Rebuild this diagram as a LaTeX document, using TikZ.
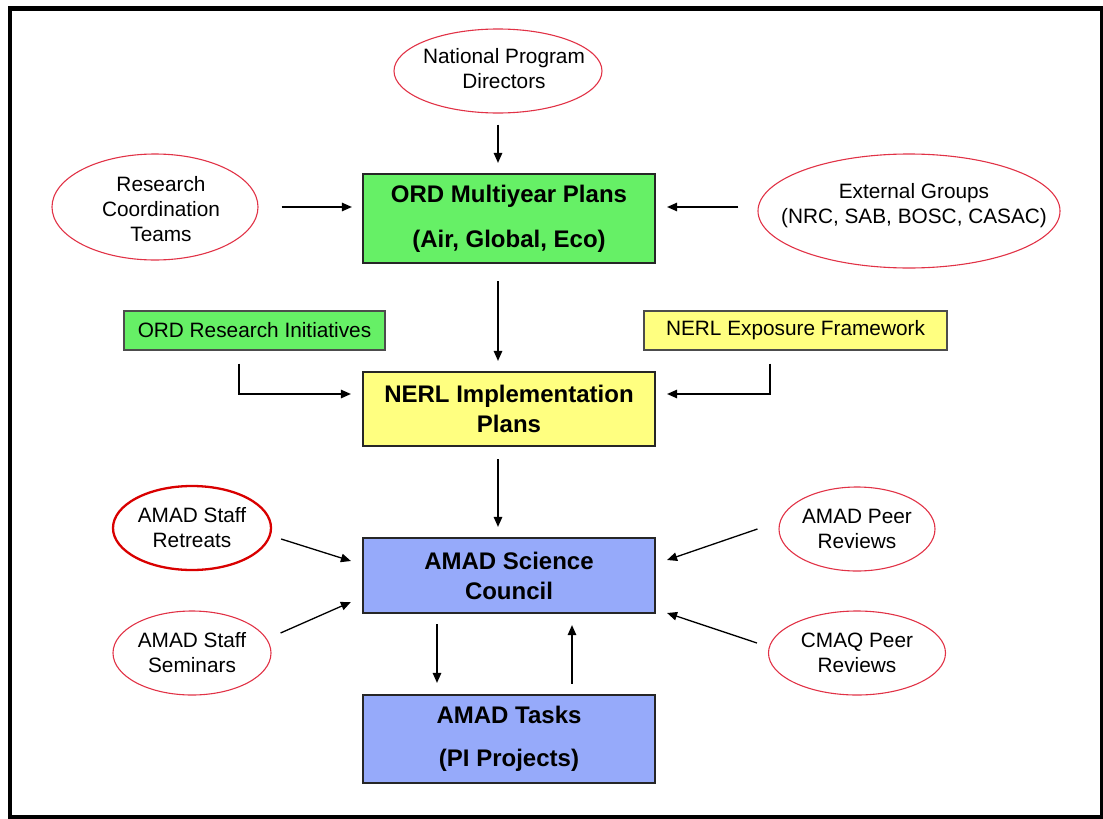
\documentclass[tikz,border=0pt]{standalone}
\usepackage{fontspec}
\setmainfont{Liberation Sans}
\usetikzlibrary{shapes.geometric,arrows.meta}
\definecolor{boxgreen}{RGB}{102,240,102}
\definecolor{boxyellow}{RGB}{255,255,128}
\definecolor{boxblue}{RGB}{150,170,250}
\definecolor{ovalred}{RGB}{225,50,70}
\tikzset{
  plan/.style={draw=black!85, line width=2.2pt, minimum width=292pt, inner sep=0pt,
    align=center, font=\bfseries\fontsize{24}{30}\selectfont},
  side/.style={draw=black!70, line width=1.2pt, minimum height=39pt, inner sep=0pt,
    font=\fontsize{20.8}{25}\selectfont},
  oval/.style={ellipse, draw=ovalred, line width=1.1pt, inner sep=0pt},
  txt/.style={align=center, font=\fontsize{20.8}{25}\selectfont},
  arr/.style={-{Triangle[length=10pt,width=8.5pt]}, line width=1.3pt}
}
\begin{document}
\begin{tikzpicture}[x=1pt,y=-1pt]
\useasboundingbox (0,0) rectangle (1103,819);
\draw[line width=4.5pt] (10,8.5) rectangle (1102,817.5);

% ellipses
\node (npd) at (498,71) [oval, minimum width=208pt, minimum height=84pt,
  label={[txt, xshift=6pt, yshift=2pt]center:National Program\\Directors}] {};
\node (rct) at (155,207) [oval, minimum width=206pt, minimum height=106pt,
  label={[txt, xshift=6pt, yshift=-2pt]center:Research\\Coordination\\Teams}] {};
\node (ext) at (909,211) [oval, minimum width=302pt, minimum height=114pt,
  label={[txt, xshift=5pt, yshift=5pt]center:External Groups\\(NRC, SAB, BOSC, CASAC)}] {};
\node (ret) at (192,528) [oval, draw=red!85!black, line width=2.3pt, minimum width=158pt, minimum height=84pt,
  label={[txt]center:AMAD Staff\\Retreats}] {};
\node (sem) at (192,653) [oval, minimum width=158pt, minimum height=84pt,
  label={[txt]center:AMAD Staff\\Seminars}] {};
\node (peer) at (857,529) [oval, minimum width=156pt, minimum height=84pt,
  label={[txt]center:AMAD Peer\\Reviews}] {};
\node (cmaq) at (857,653) [oval, minimum width=177pt, minimum height=84pt,
  label={[txt]center:CMAQ Peer\\Reviews}] {};

% boxes
\node (ord) at (509,218.5) [plan, fill=boxgreen, minimum height=89pt] {ORD Multiyear Plans\\[15pt](Air, Global, Eco)};
\node (ori) at (254.5,330.5) [side, fill=boxgreen, minimum width=261pt] {ORD Research Initiatives};
\node (nef) at (795.5,330.5) [side, fill=boxyellow, minimum width=303pt] {NERL Exposure Framework};
\node (nerl) at (509,409) [plan, fill=boxyellow, minimum height=74pt] {NERL Implementation\\Plans};
\node (sci) at (509,575.5) [plan, fill=boxblue, minimum height=75pt] {AMAD Science\\Council};
\node (task) at (509,739) [plan, fill=boxblue, minimum height=88pt] {AMAD Tasks\\[13pt](PI Projects)};

\draw[arr, shorten <=11pt, shorten >=10pt] (npd.south) -- ([xshift=-11pt]ord.north);
\draw[arr, shorten <=23pt, shorten >=10pt] (rct.east) -- ([yshift=11.5pt]ord.west);
\draw[arr, shorten <=19pt, shorten >=11pt] ([yshift=4pt]ext.west) -- ([yshift=11.5pt]ord.east);
\draw[arr, shorten <=17pt, shorten >=10pt] ([xshift=-11pt]ord.south) -- ([xshift=-11pt]nerl.north);
\draw[arr, shorten <=13pt, shorten >=11pt] ([xshift=-15.5pt]ori.south) |- ([yshift=15pt]nerl.west);
\draw[arr, shorten <=13pt, shorten >=11pt] ([xshift=-25.5pt]nef.south) |- ([yshift=15pt]nerl.east);
\draw[arr, shorten <=12pt, shorten >=10pt] ([xshift=-11pt]nerl.south) -- ([xshift=-11pt]sci.north);
\draw[arr] ([xshift=9pt,yshift=-11pt]ret.east) -- ([xshift=-11pt,yshift=14.5pt]sci.west);
\draw[arr] ([xshift=9pt,yshift=20pt]sem.east) -- ([xshift=-11pt,yshift=-26.5pt]sci.west);
\draw[arr] ([xshift=-21pt]peer.west) -- ([xshift=11pt,yshift=15.5pt]sci.east);
\draw[arr] ([xshift=-11pt,yshift=10pt]cmaq.west) -- ([xshift=11pt,yshift=-37.5pt]sci.east);
\draw[arr, shorten <=10pt, shorten >=11pt] ([xshift=-72pt]sci.south) -- ([xshift=-72pt]task.north);
\draw[arr, shorten <=10pt, shorten >=11pt] ([xshift=63pt]task.north) -- ([xshift=63pt]sci.south);
\end{tikzpicture}
\end{document}
